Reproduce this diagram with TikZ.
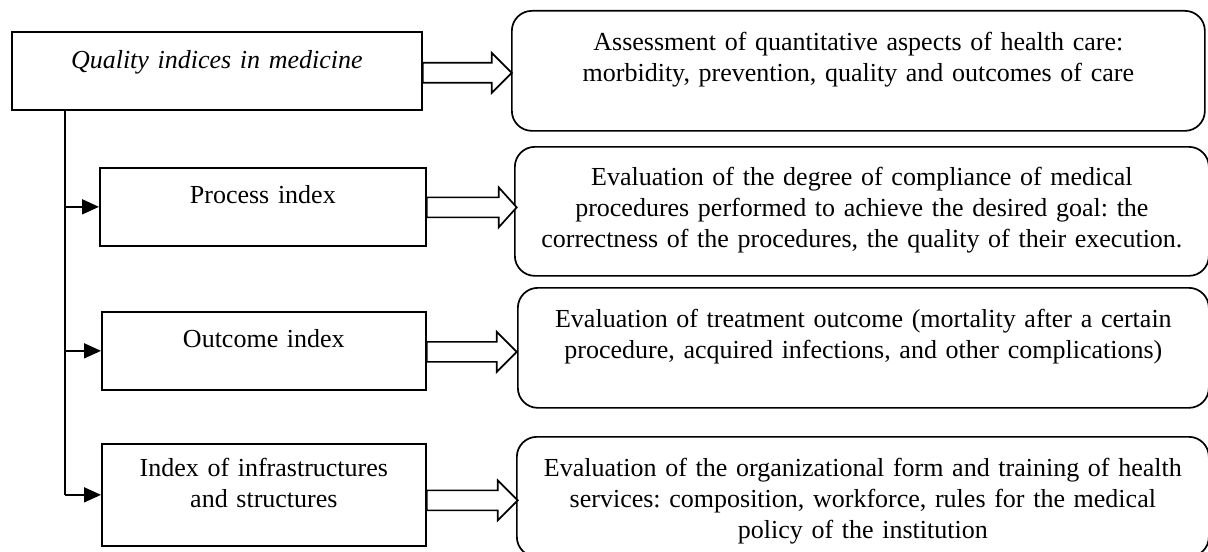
\documentclass[tikz,border=0pt]{standalone}
\usepackage{fontspec}
\setmainfont{Liberation Serif}
\usetikzlibrary{arrows.meta,calc}
\begin{document}
\frenchspacing
\begin{tikzpicture}[x=0.5pt,y=-0.5pt,
  every node/.style={font=\fontsize{13}{15.5}\selectfont\frenchspacing},
  leftbox/.style={draw, line width=0.85pt, inner sep=0pt, anchor=north west, align=center},
  rightbox/.style={draw, line width=0.85pt, inner sep=0pt, anchor=north west, align=center, rounded corners=10pt},
  trunk/.style={line width=0.55pt},
  branch/.style={line width=0.85pt, -{Triangle[length=8.5pt,width=7.5pt]}},
  hollow/.style={draw, fill=white, line width=0.85pt, line join=miter}]
\useasboundingbox (0,0) rectangle (1208,551);
\fill[white] (0,0) rectangle (1208,551);
\clip (0,0) rectangle (1208,551);

% left column
\node[leftbox, text width=205pt, text height=18.5pt, text depth=20.5pt] (Q) at (11,31) {\itshape Quality indices in medicine};
\node[leftbox, text width=163pt, text height=18pt, text depth=21pt] (P) at (99,167) {Process index};
\node[leftbox, text width=162pt, text height=18pt, text depth=21pt] (O) at (101,311) {Outcome index};
\node[leftbox, text width=162pt, text height=16.5pt, text depth=34.5pt] (I) at (101,443) {Index of infrastructures\\and structures};

% right column
\node[rightbox, text width=346.5pt, text height=20pt, text depth=40pt] (A) at (511,10) {Assessment of quantitative aspects of health care:\\morbidity, prevention, quality and outcomes of care};
\node[rightbox, text width=347pt, text height=19.5pt, text depth=45pt] (B) at (514,146) {Evaluation of the degree of compliance of medical\\procedures performed to achieve the desired goal: the\\correctness of the procedures, the quality of their execution.};
\node[rightbox, text width=345.5pt, text height=20pt, text depth=40pt] (C) at (517,287) {Evaluation of treatment outcome (mortality after a certain\\procedure, acquired infections, and other complications)};
\node[rightbox, text width=346pt, text height=20pt, text depth=40pt] (D) at (516,436) {Evaluation of the organizational form and training of health\\services: composition, workforce, rules for the medical\\policy of the institution};

% trunk and branches
\coordinate (t0) at ([xshift=27pt]Q.south west);
\draw[trunk] (t0) -- (t0 |- I.west);
\draw[branch] (t0 |- P.west) -- (P.west);
\draw[branch] (t0 |- O.west) -- (O.west);
\draw[branch] (t0 |- I.west) -- (I.west);

% hollow arrows
\draw[hollow] ([yshift=-1pt]Q.east) ++(0,-10) -- ++(69,0) -- ++(0,-10) -- ++(20,20) -- ++(-20,20) -- ++(0,-10) -- ++(-69,0) -- cycle;
\draw[hollow] ([yshift=-0.25pt]P.east) ++(0,-10) -- ++(72,0) -- ++(0,-10) -- ++(18,20) -- ++(-18,20) -- ++(0,-10) -- ++(-72,0) -- cycle;
\draw[hollow] ([yshift=-0.5pt]O.east) ++(0,-10) -- ++(70,0) -- ++(0,-10) -- ++(20,20) -- ++(-20,20) -- ++(0,-10) -- ++(-70,0) -- cycle;
\draw[hollow] ([yshift=-2.75pt]I.east) ++(0,-10) -- ++(71,0) -- ++(0,-10) -- ++(20,20) -- ++(-20,20) -- ++(0,-10) -- ++(-71,0) -- cycle;
\end{tikzpicture}
\end{document}
